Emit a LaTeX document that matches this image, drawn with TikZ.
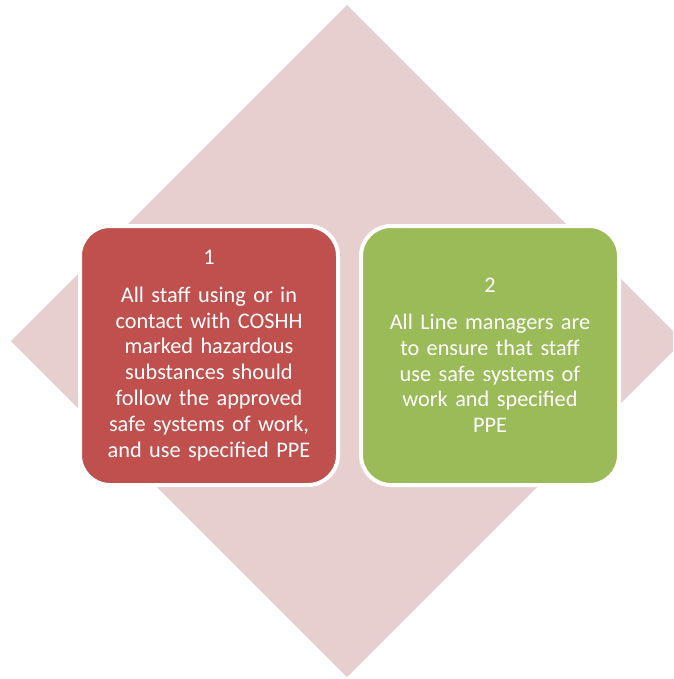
\documentclass[tikz,border=0pt]{standalone}
\usepackage{fontspec}
\setmainfont{Carlito}
\usepackage{tikz}
\usetikzlibrary{calc,positioning}
\definecolor{diamondpink}{HTML}{E7CFD0}
\definecolor{boxred}{HTML}{C0504D}
\definecolor{boxgreen}{HTML}{9BBB59}
\tikzset{
  card/.style={draw=white, line width=4pt, rounded corners=30pt,
    minimum width=258pt, minimum height=259pt, text width=240pt,
    align=center, text=white, font=\fontsize{22.3}{25.8}\selectfont,
    inner sep=0pt},
}

\begin{document}
\begin{tikzpicture}[x=1pt,y=-1pt]
\useasboundingbox (0,0) rectangle (673,679);
\clip (0,0) rectangle (673,679);
% background diamond
\fill[diamondpink] (347,5) coordinate(T) -- (683,341) coordinate(R) -- (347,677) coordinate(B) -- (11,341) coordinate(L) -- cycle;
% the two cards
\node[card, fill=boxred] (staff) at (209,355.5) {1\\[12pt]All staff using or in\\contact with COSHH\\marked hazardous\\substances should\\follow the approved\\safe systems of work,\\and use specified PPE};
\node[card, fill=boxgreen, right=19pt of staff] (managers) {2\\[11pt]All Line managers are\\to ensure that staff\\use safe systems of\\work and specified\\PPE};
\end{tikzpicture}
\end{document}
